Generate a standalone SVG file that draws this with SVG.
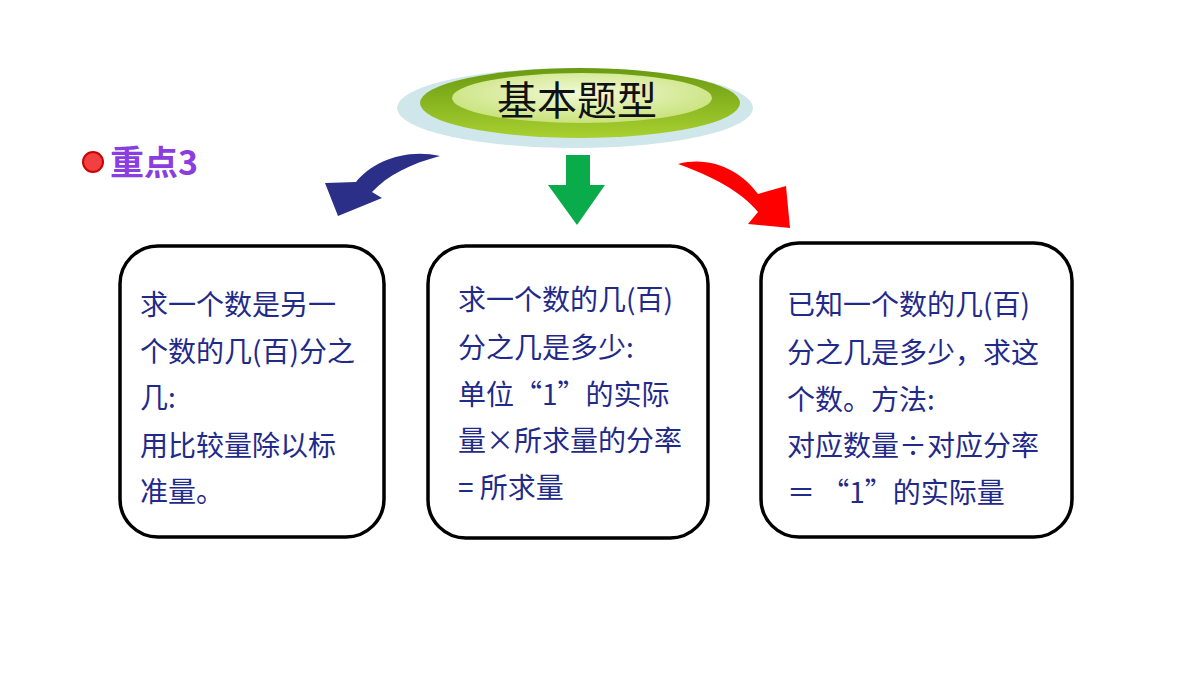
<svg xmlns="http://www.w3.org/2000/svg" width="1200" height="675" viewBox="0 0 1200 675">
<style>
.box{fill:#fff;stroke:#000;stroke-width:3.5}
.t{font-family:"Noto Sans CJK SC","Liberation Sans",sans-serif;font-size:28px;fill:#1f2a8a}
</style>
<defs>
<linearGradient id="g" x1="0" y1="0" x2="0" y2="1"><stop offset="0" stop-color="#6a9a10"/><stop offset="1" stop-color="#a8d030"/></linearGradient>
<radialGradient id="gi" cx="0.5" cy="0.4" r="0.6"><stop offset="0" stop-color="#f2f9d8"/><stop offset="1" stop-color="#c8e27a"/></radialGradient>
</defs>
<rect width="1200" height="675" fill="#fff"/>
<g id="title">
<ellipse cx="575" cy="108" rx="178" ry="40" fill="#cfe6ea"/>
<ellipse cx="580" cy="103" rx="160" ry="35" fill="url(#g)"/>
<ellipse cx="582" cy="98" rx="130" ry="25" fill="url(#gi)"/>
<text x="577" y="115" text-anchor="middle" font-family="Noto Sans CJK SC,sans-serif" font-size="40" fill="#111">基本题型</text>
</g>
<g id="badge">
<circle cx="93" cy="162" r="10" fill="#f04040" stroke="#c00" stroke-width="2"/>
<text x="110" y="175" font-family="Noto Sans CJK SC,sans-serif" font-size="34" font-weight="bold" fill="#8a3ee0">重点3</text>
</g>
<g id="connectors">
<path d="M440,156 C405,148 372,162 356,182 L325,183 L338,216 L382,198 L372,192 C388,175 410,164 440,156 Z" fill="#2b2f88"/>
<path d="M566,155 H590 V185 H605 L577,225 L548,185 H566 Z" fill="#0aab4a"/>
<path d="M678,164 C712,155 742,172 758,194 L786,186 L790,228 L748,224 L758,212 C742,192 712,176 678,164 Z" fill="#f00"/>
</g>
<g id="box1">
<rect class="box" x="120" y="246" width="264" height="291" rx="38"/>
<text class="t" x="140" y="315">求一个数是另一</text>
<text class="t" x="140" y="362">个数的几(百)分之</text>
<text class="t" x="140" y="408">几:</text>
<text class="t" x="140" y="456">用比较量除以标</text>
<text class="t" x="140" y="502">准量。</text>
</g>
<g id="box2">
<rect class="box" x="428" y="246" width="280" height="292" rx="38"/>
<text class="t" x="458" y="310">求一个数的几(百)</text>
<text class="t" x="458" y="358">分之几是多少:</text>
<text class="t" x="458" y="405">单位“1”的实际</text>
<text class="t" x="458" y="451">量×所求量的分率</text>
<text class="t" x="458" y="498">= 所求量</text>
</g>
<g id="box3">
<rect class="box" x="761" y="243" width="311" height="294" rx="38"/>
<text class="t" x="787" y="315">已知一个数的几(百)</text>
<text class="t" x="787" y="363">分之几是多少，求这</text>
<text class="t" x="787" y="410">个数。方法:</text>
<text class="t" x="787" y="456">对应数量÷对应分率</text>
<text class="t" x="787" y="503">＝ “1”的实际量</text>
</g>
</svg>
